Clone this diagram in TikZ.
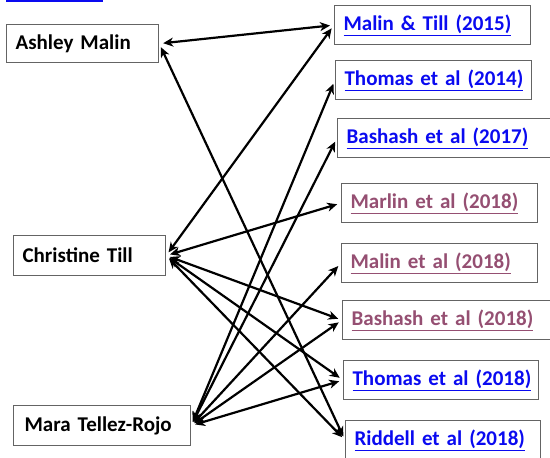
\documentclass[tikz,border=0pt]{standalone}
\usepackage{fontspec}
\setmainfont{Carlito}
\usepackage{tikz}
\usetikzlibrary{arrows.meta}
\definecolor{boxgray}{RGB}{100,100,100}
\definecolor{linkblue}{RGB}{10,10,240}
\definecolor{visited}{RGB}{149,79,114}
\tikzset{
  person/.style={draw=boxgray, line width=1.2pt, anchor=north west, inner xsep=9pt, align=left, font=\fontsize{21}{24}\selectfont\bfseries},
  paper/.style={person, minimum height=39pt, text width=#1},
  paper/.default=178pt,
  link/.style={line width=2.2pt, {Stealth[length=10pt,width=9pt,inset=3pt]}-{Stealth[length=10pt,width=9pt,inset=3pt]}, shorten <=4pt, shorten >=4pt}
}
\begin{document}
\begin{tikzpicture}[x=1pt,y=-1pt]
\useasboundingbox (0,0) rectangle (550,458);
\draw[linkblue, line width=2pt] (6,1) -- (103,1);
\node[person, minimum height=38pt, text width=134pt] (ashley) at (6,24) {Ashley Malin};
\node[person, minimum height=40pt, text width=134pt] (christine) at (13,235) {Christine Till};
\node[person, minimum height=40pt, text width=155pt, inner xsep=11pt] (mara) at (13,405) {Mara Tellez-Rojo};
\node[paper, text=linkblue] (malintill15) at (334,5) {\underline{Malin \& Till (2015)}};
\node[paper, text=linkblue] (thomas14) at (335,60) {\underline{Thomas et al (2014)}};
\node[paper=195pt, text=linkblue] (bashash17) at (337,118) {\underline{Bashash et al (2017)}};
\node[paper, text=visited] (marlin18) at (341,183) {\underline{Marlin et al (2018)}};
\node[paper, text=visited] (malin18) at (341,243) {\underline{Malin et al (2018)}};
\node[paper=195pt, text=visited] (bashash18) at (342,300) {\underline{Bashash et al (2018)}};
\node[paper=177pt, text=linkblue] (thomas18) at (343,360) {\underline{Thomas et al (2018)}};
\node[paper=177pt, text=linkblue] (riddell18) at (345,420) {\underline{Riddell et al (2018)}};
\draw[link] (ashley.east) -- (malintill15.west);
\draw[link] (ashley.east) -- (riddell18.west);
\draw[link] (christine.east) -- (malintill15.west);
\draw[link] (christine.east) -- (marlin18.west);
\draw[link] (christine.east) -- (bashash18.west);
\draw[link] (christine.east) -- (thomas18.west);
\draw[link] (christine.east) -- (riddell18.west);
\draw[link] (mara.east) -- (thomas14.west);
\draw[link] (mara.east) -- (bashash17.west);
\draw[link] (mara.east) -- (malin18.west);
\draw[link] (mara.east) -- (bashash18.west);
\draw[link] (mara.east) -- (thomas18.west);
\end{tikzpicture}
\end{document}
